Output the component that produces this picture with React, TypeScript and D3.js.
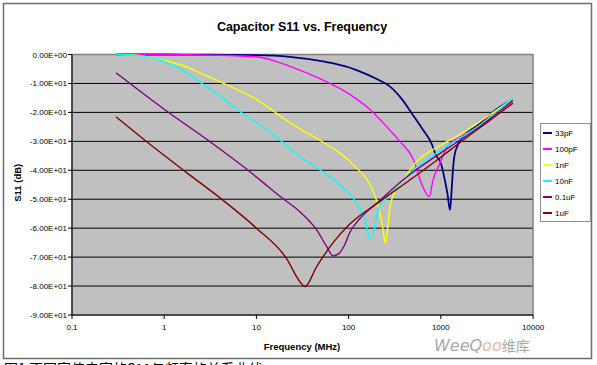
import React from "react";
import * as d3 from "d3";

// ---- data (frequency in MHz, S11 in dB) ----
const seriesNames = ["33pF", "100pF", "1nF", "10nF", "0.1uF", "1uF"];
const seriesColors = ["#000080", "#ff00ff", "#ffff00", "#00ffff", "#800080", "#800000"];

const s33pF: [number, number][] = [
  [0.3, 0], [1, 0], [3, -0.05], [10, -0.2], [23, -0.8], [53, -2.4], [100, -4.4], [122, -5.4],
  [200, -8.4], [280, -11], [380, -15.5], [500, -21], [640, -26], [800, -31], [880, -34.7],
  [1000, -37.5], [1100, -43], [1180, -48], [1259, -53.7], [1310, -47], [1346, -41],
  [1400, -35.3], [1560, -30.6], [1750, -28.3], [2500, -24.5], [4000, -19], [6000, -15.5],
];
const s100pF: [number, number][] = [
  [0.3, 0], [1, 0], [3.4, -0.2], [10, -0.8], [21, -3.6], [30, -5.5], [50, -8.5], [100, -13.5],
  [185, -20], [260, -25], [360, -30], [500, -36], [640, -45.8], [750, -49.1], [823, -43.4],
  [980, -37.5], [1167, -32], [1614, -28.5], [2500, -25], [4000, -19.5], [6000, -15.5],
];
const s1nF: [number, number][] = [
  [0.3, 0], [0.5, -0.2], [0.8, -1.5], [1.6, -3.8], [2.5, -6.5], [4.4, -10], [10, -15.5],
  [21, -22.6], [30, -25.8], [50, -29.8], [80, -34], [120, -39], [171, -45], [208, -52],
  [235, -60], [250, -65], [265, -60], [280, -53], [300, -49.2], [390, -43.4], [530, -37.5],
  [1100, -30.6], [1800, -26.7], [3000, -22], [6000, -15.3],
];
const s10nF: [number, number][] = [
  [0.3, 0], [0.5, -0.3], [0.7, -1], [1, -2.5], [1.6, -5.5], [2.44, -9.5], [4.3, -15],
  [6.5, -19.5], [10, -23.5], [18, -29.5], [30, -35.4], [50, -40], [80, -45], [120, -51],
  [150, -57], [170, -63.5], [185, -62], [200, -56], [220, -52], [260, -49.5], [320, -46.5],
  [500, -40], [1000, -33], [2500, -25], [6000, -15],
];
const s01uF: [number, number][] = [
  [0.3, -6.3], [1.06, -19.5], [3.1, -30], [8.5, -40.5], [11, -43.4], [18, -49], [30, -54.5],
  [45, -60.6], [58, -66.4], [68, -69.6], [80, -68.5], [90, -66], [103, -61.5], [130, -57],
  [200, -51.5], [400, -43], [1000, -34], [2500, -25.5], [6000, -16],
];
const s1uF: [number, number][] = [
  [0.3, -21.5], [0.7, -31], [1.75, -40.8], [4.4, -50.5], [10, -60], [21, -70.3],
  [29.7, -78.5], [33.6, -80.2], [45, -73.3], [68, -65], [103, -58.6], [215, -50.9],
  [470, -43.2], [1000, -35.5], [1614, -30.4], [2449, -26.1], [4036, -21], [6067, -16.8],
];
const allSeries = [s33pF, s100pF, s1nF, s10nF, s01uF, s1uF];

const xTicks = [0.1, 1, 10, 100, 1000, 10000];
const xTickLabels = ["0.1", "1", "10", "100", "1000", "10000"];
const yTicks = [0, -10, -20, -30, -40, -50, -60, -70, -80, -90];

const titleText = "Capacitor S11 vs. Frequency";
const xTitle = "Frequency (MHz)";
const yTitle = "S11 (dB)";
const captionText = "图1  不同容值电容的S11与频率的关系曲线";

function fmtE(v: number): string {
  if (v === 0) return "0.00E+00";
  const sign = v < 0 ? "-" : "";
  const a = Math.abs(v);
  const e = Math.floor(Math.log10(a));
  const m = a / Math.pow(10, e);
  return `${sign}${m.toFixed(2)}E${e >= 0 ? "+" : "-"}${String(Math.abs(e)).padStart(2, "0")}`;
}

export default function App() {
  const W = 597, H = 365;
  const L = 72, R = 533, T = 54.5, B = 315;
  const x = d3.scaleLog().domain([0.1, 10000]).range([L, R]);
  const y = d3.scaleLinear().domain([-90, 0]).range([B, T]);
  const line = d3
    .line<[number, number]>()
    .x((d) => x(d[0]))
    .y((d) => y(d[1]))
    .curve(d3.curveMonotoneX);
  const font = "'Liberation Sans', Arial, sans-serif";

  return (
    <svg
      width={W}
      height={H}
      style={{ position: "absolute", left: 0, top: 0, background: "#fff" }}
      fontFamily={font}
    >
      <rect x={0} y={0} width={W} height={H} fill="#fff" />
      <rect x={3.5} y={3.5} width={588} height={355} fill="#fff" stroke="#6e6e6e" strokeWidth={1.5} />
      <text x={302} y={31} textAnchor="middle" fontSize={12.5} fontWeight="bold" fill="#000">
        {titleText}
      </text>

      {/* plot area */}
      <rect x={L} y={T} width={R - L} height={B - T} fill="#c0c0c0" />
      {yTicks.filter((v) => v !== 0 && v !== -90).map((v) => (
        <line key={v} x1={L} x2={R} y1={y(v)} y2={y(v)} stroke="#000" strokeWidth={1} />
      ))}
      <rect x={L} y={T} width={R - L} height={B - T} fill="none" stroke="#808080" strokeWidth={1.5} />

      {/* axes */}
      <line x1={L} x2={L} y1={T} y2={B} stroke="#000" strokeWidth={1} />
      <line x1={L} x2={R} y1={B} y2={B} stroke="#000" strokeWidth={1} />
      {yTicks.map((v) => (
        <g key={v}>
          <line x1={L - 4} x2={L} y1={y(v)} y2={y(v)} stroke="#000" />
          <text x={L - 5} y={y(v) + 3} textAnchor="end" fontSize={8} fill="#000">
            {fmtE(v)}
          </text>
        </g>
      ))}
      {xTicks.map((v, i) => (
        <g key={v}>
          <line x1={x(v)} x2={x(v)} y1={B} y2={B + 4} stroke="#000" />
          <text x={x(v)} y={B + 15} textAnchor="middle" fontSize={8} fill="#000">
            {xTickLabels[i]}
          </text>
        </g>
      ))}
      <text x={302} y={350} textAnchor="middle" fontSize={9.5} fontWeight="bold" fill="#000">
        {xTitle}
      </text>
      <text
        transform={`translate(21,${(T + B) / 2 - 2}) rotate(-90)`}
        textAnchor="middle"
        fontSize={9.5}
        fontWeight="bold"
        fill="#000"
      >
        {yTitle}
      </text>

      {/* series */}
      <g>
        {allSeries.map((s, i) => (
          <path
            key={seriesNames[i]}
            d={line(s) || ""}
            fill="none"
            stroke={seriesColors[i]}
            strokeWidth={i === 0 ? 1.8 : 1.4}
            strokeLinejoin="round"
          />
        ))}
      </g>

      {/* legend */}
      <rect x={540.5} y={123.5} width={50} height={98} fill="#fff" stroke="#909090" strokeWidth={1} />
      {seriesNames.map((n, i) => (
        <g key={n}>
          <line x1={543} x2={552} y1={133 + i * 16} y2={133 + i * 16} stroke={seriesColors[i]} strokeWidth={2} />
          <text x={555} y={136 + i * 16} fontSize={8} fill="#000">
            {n}
          </text>
        </g>
      ))}

      {/* watermark */}
      <rect x={430} y={332} width={106} height={25} fill="#fff" opacity={0.75} />
      <text x={434} y={351} fontSize={16} fontStyle="italic" fill="#a8a8a8" fontFamily="'DejaVu Sans', sans-serif">
        WeeQ<tspan fill="#e8b89a">oo</tspan>
        <tspan fontStyle="normal" fontSize={14} fontFamily="'Noto Sans CJK SC', sans-serif">维库</tspan>
      </text>

      {/* caption (clipped by the bottom edge, as in the source) */}
      <text x={4} y={374} fontSize={14} fill="#000" fontFamily="'Noto Sans CJK SC', sans-serif">
        {captionText}
      </text>
    </svg>
  );
}
